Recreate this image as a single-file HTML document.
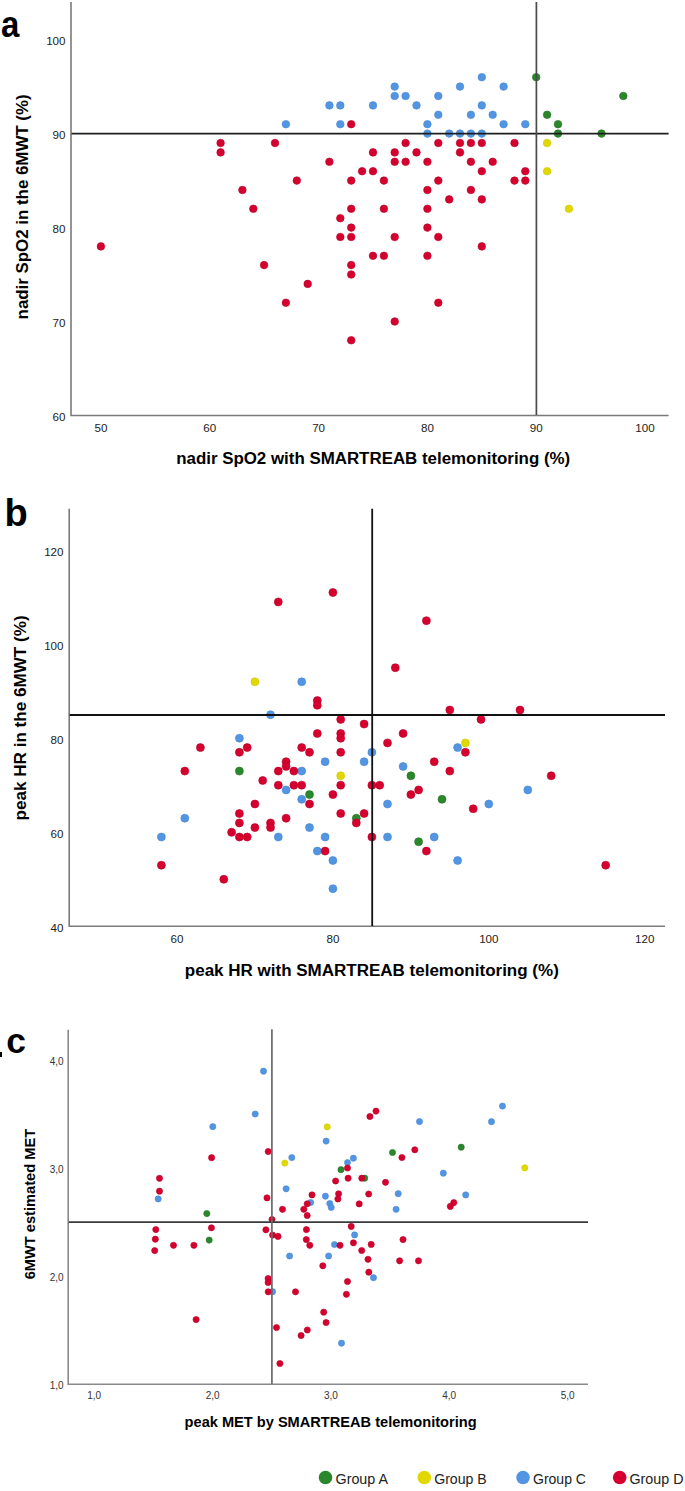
<!DOCTYPE html><html><head><meta charset="utf-8"><style>html,body{margin:0;padding:0;background:#fff;}svg{display:block;}text{font-family:"Liberation Sans",sans-serif;}</style></head><body>
<svg width="685" height="1491" viewBox="0 0 685 1491">
<rect width="685" height="1491" fill="#fff"/>
<text transform="translate(0.9 36.9) scale(0.88 1)" font-size="37.5" font-weight="bold" fill="#000">a</text>
<g fill="#5295e2" stroke="#4a88d2" stroke-width="0.6"><circle cx="285.9" cy="124.2" r="3.8"/><circle cx="329.4" cy="105.4" r="3.8"/><circle cx="340.3" cy="105.4" r="3.8"/><circle cx="340.3" cy="124.2" r="3.8"/><circle cx="373.0" cy="105.4" r="3.8"/><circle cx="394.7" cy="86.6" r="3.8"/><circle cx="394.7" cy="96.0" r="3.8"/><circle cx="481.8" cy="77.2" r="3.8"/><circle cx="460.0" cy="86.6" r="3.8"/><circle cx="503.6" cy="86.6" r="3.8"/><circle cx="405.6" cy="96.0" r="3.8"/><circle cx="438.3" cy="96.0" r="3.8"/><circle cx="416.5" cy="105.4" r="3.8"/><circle cx="481.8" cy="105.4" r="3.8"/><circle cx="438.3" cy="114.8" r="3.8"/><circle cx="470.9" cy="114.8" r="3.8"/><circle cx="492.7" cy="114.8" r="3.8"/><circle cx="427.4" cy="124.2" r="3.8"/><circle cx="503.6" cy="124.2" r="3.8"/><circle cx="525.3" cy="124.2" r="3.8"/><circle cx="427.4" cy="133.6" r="3.8"/><circle cx="449.2" cy="133.6" r="3.8"/><circle cx="460.0" cy="133.6" r="3.8"/><circle cx="470.9" cy="133.6" r="3.8"/><circle cx="481.8" cy="133.6" r="3.8"/></g>
<g fill="#2b872b" stroke="#237323" stroke-width="0.6"><circle cx="536.2" cy="77.2" r="3.8"/><circle cx="547.1" cy="114.8" r="3.8"/><circle cx="558.0" cy="124.2" r="3.8"/><circle cx="558.0" cy="133.6" r="3.8"/><circle cx="601.5" cy="133.6" r="3.8"/><circle cx="623.3" cy="96.0" r="3.8"/></g>
<g fill="#e0d800" stroke="#d2c800" stroke-width="0.6"><circle cx="547.1" cy="143.0" r="3.8"/><circle cx="547.1" cy="171.2" r="3.8"/><circle cx="568.9" cy="208.8" r="3.8"/></g>
<g fill="#d6002f" stroke="#b80028" stroke-width="0.6"><circle cx="100.9" cy="246.4" r="3.8"/><circle cx="220.6" cy="143.0" r="3.8"/><circle cx="220.6" cy="152.4" r="3.8"/><circle cx="242.4" cy="190.0" r="3.8"/><circle cx="253.3" cy="208.8" r="3.8"/><circle cx="351.2" cy="124.2" r="3.8"/><circle cx="275.0" cy="143.0" r="3.8"/><circle cx="329.4" cy="161.8" r="3.8"/><circle cx="373.0" cy="152.4" r="3.8"/><circle cx="394.7" cy="152.4" r="3.8"/><circle cx="394.7" cy="161.8" r="3.8"/><circle cx="362.1" cy="171.2" r="3.8"/><circle cx="373.0" cy="171.2" r="3.8"/><circle cx="296.8" cy="180.6" r="3.8"/><circle cx="351.2" cy="180.6" r="3.8"/><circle cx="383.9" cy="180.6" r="3.8"/><circle cx="351.2" cy="208.8" r="3.8"/><circle cx="383.9" cy="208.8" r="3.8"/><circle cx="340.3" cy="218.2" r="3.8"/><circle cx="351.2" cy="227.6" r="3.8"/><circle cx="340.3" cy="237.0" r="3.8"/><circle cx="351.2" cy="237.0" r="3.8"/><circle cx="394.7" cy="237.0" r="3.8"/><circle cx="373.0" cy="255.8" r="3.8"/><circle cx="383.9" cy="255.8" r="3.8"/><circle cx="405.6" cy="143.0" r="3.8"/><circle cx="438.3" cy="143.0" r="3.8"/><circle cx="460.0" cy="143.0" r="3.8"/><circle cx="470.9" cy="143.0" r="3.8"/><circle cx="481.8" cy="143.0" r="3.8"/><circle cx="514.5" cy="143.0" r="3.8"/><circle cx="416.5" cy="152.4" r="3.8"/><circle cx="460.0" cy="152.4" r="3.8"/><circle cx="405.6" cy="161.8" r="3.8"/><circle cx="427.4" cy="161.8" r="3.8"/><circle cx="470.9" cy="161.8" r="3.8"/><circle cx="492.7" cy="161.8" r="3.8"/><circle cx="481.8" cy="171.2" r="3.8"/><circle cx="525.3" cy="171.2" r="3.8"/><circle cx="438.3" cy="180.6" r="3.8"/><circle cx="514.5" cy="180.6" r="3.8"/><circle cx="525.3" cy="180.6" r="3.8"/><circle cx="427.4" cy="190.0" r="3.8"/><circle cx="470.9" cy="190.0" r="3.8"/><circle cx="449.2" cy="199.4" r="3.8"/><circle cx="481.8" cy="199.4" r="3.8"/><circle cx="427.4" cy="208.8" r="3.8"/><circle cx="427.4" cy="227.6" r="3.8"/><circle cx="438.3" cy="237.0" r="3.8"/><circle cx="481.8" cy="246.4" r="3.8"/><circle cx="427.4" cy="255.8" r="3.8"/><circle cx="264.1" cy="265.1" r="3.8"/><circle cx="351.2" cy="265.1" r="3.8"/><circle cx="351.2" cy="274.5" r="3.8"/><circle cx="307.7" cy="283.9" r="3.8"/><circle cx="285.9" cy="302.7" r="3.8"/><circle cx="394.7" cy="321.5" r="3.8"/><circle cx="351.2" cy="340.3" r="3.8"/><circle cx="438.3" cy="302.7" r="3.8"/></g>
<path d="M71 2 V415.5 H668.6" fill="none" stroke="#7a7a7a" stroke-width="1.6"/>
<path d="M71.5 133.6 H668.6" fill="none" stroke="#1e1e1e" stroke-width="1.7"/>
<path d="M536.4 2 V415" fill="none" stroke="#4a4a4a" stroke-width="1.7"/>
<text x="65.5" y="45.2" font-size="11.6" text-anchor="end" fill="#222">100</text>
<text x="65.5" y="139.2" font-size="11.6" text-anchor="end" fill="#222">90</text>
<text x="65.5" y="233.2" font-size="11.6" text-anchor="end" fill="#222">80</text>
<text x="65.5" y="327.1" font-size="11.6" text-anchor="end" fill="#222">70</text>
<text x="65.5" y="421.1" font-size="11.6" text-anchor="end" fill="#222">60</text>
<text x="100.9" y="431.8" font-size="11.6" text-anchor="middle" fill="#222">50</text>
<text x="209.7" y="431.8" font-size="11.6" text-anchor="middle" fill="#222">60</text>
<text x="318.6" y="431.8" font-size="11.6" text-anchor="middle" fill="#222">70</text>
<text x="427.4" y="431.8" font-size="11.6" text-anchor="middle" fill="#222">80</text>
<text x="536.2" y="431.8" font-size="11.6" text-anchor="middle" fill="#222">90</text>
<text x="645.0" y="431.8" font-size="11.6" text-anchor="middle" fill="#222">100</text>
<text x="373.2" y="464.3" font-size="16" font-weight="bold" text-anchor="middle" textLength="394" lengthAdjust="spacingAndGlyphs" fill="#000">nadir SpO2 with SMARTREAB telemonitoring (%)</text>
<text transform="translate(28.1 206.9) rotate(-90)" font-size="16" font-weight="bold" text-anchor="middle" textLength="225" lengthAdjust="spacingAndGlyphs" fill="#000">nadir SpO2 in the 6MWT (%)</text>
<text x="4.5" y="525.8" font-size="38" font-weight="bold" fill="#000">b</text>
<g fill="#5295e2" stroke="#4a88d2" stroke-width="0.6"><circle cx="301.7" cy="681.8" r="4.0"/><circle cx="270.5" cy="714.7" r="4.0"/><circle cx="239.4" cy="738.2" r="4.0"/><circle cx="184.8" cy="818.2" r="4.0"/><circle cx="371.9" cy="752.3" r="4.0"/><circle cx="325.1" cy="761.7" r="4.0"/><circle cx="364.1" cy="761.7" r="4.0"/><circle cx="301.7" cy="771.1" r="4.0"/><circle cx="286.1" cy="789.9" r="4.0"/><circle cx="301.7" cy="799.3" r="4.0"/><circle cx="309.5" cy="827.6" r="4.0"/><circle cx="457.6" cy="747.6" r="4.0"/><circle cx="403.1" cy="766.4" r="4.0"/><circle cx="387.5" cy="804.0" r="4.0"/><circle cx="488.8" cy="804.0" r="4.0"/><circle cx="527.8" cy="789.9" r="4.0"/><circle cx="161.4" cy="837.0" r="4.0"/><circle cx="278.3" cy="837.0" r="4.0"/><circle cx="325.1" cy="837.0" r="4.0"/><circle cx="317.3" cy="851.1" r="4.0"/><circle cx="332.9" cy="860.5" r="4.0"/><circle cx="332.9" cy="888.7" r="4.0"/><circle cx="387.5" cy="837.0" r="4.0"/><circle cx="434.2" cy="837.0" r="4.0"/><circle cx="457.6" cy="860.5" r="4.0"/></g>
<g fill="#2b872b" stroke="#237323" stroke-width="0.6"><circle cx="239.4" cy="771.1" r="4.0"/><circle cx="309.5" cy="794.6" r="4.0"/><circle cx="356.3" cy="818.2" r="4.0"/><circle cx="410.9" cy="775.8" r="4.0"/><circle cx="442.0" cy="799.3" r="4.0"/><circle cx="418.6" cy="841.7" r="4.0"/></g>
<g fill="#e0d800" stroke="#d2c800" stroke-width="0.6"><circle cx="254.9" cy="681.8" r="4.0"/><circle cx="340.7" cy="775.8" r="4.0"/><circle cx="465.4" cy="742.9" r="4.0"/></g>
<g fill="#d6002f" stroke="#b80028" stroke-width="0.6"><circle cx="278.3" cy="601.9" r="4.0"/><circle cx="332.9" cy="592.5" r="4.0"/><circle cx="426.4" cy="620.7" r="4.0"/><circle cx="395.3" cy="667.7" r="4.0"/><circle cx="317.3" cy="700.6" r="4.0"/><circle cx="317.3" cy="705.3" r="4.0"/><circle cx="449.8" cy="710.0" r="4.0"/><circle cx="340.7" cy="719.4" r="4.0"/><circle cx="364.1" cy="724.1" r="4.0"/><circle cx="520.0" cy="710.0" r="4.0"/><circle cx="481.0" cy="719.4" r="4.0"/><circle cx="200.4" cy="747.6" r="4.0"/><circle cx="247.2" cy="747.6" r="4.0"/><circle cx="239.4" cy="752.3" r="4.0"/><circle cx="184.8" cy="771.1" r="4.0"/><circle cx="262.7" cy="780.5" r="4.0"/><circle cx="254.9" cy="804.0" r="4.0"/><circle cx="239.4" cy="813.5" r="4.0"/><circle cx="239.4" cy="822.9" r="4.0"/><circle cx="254.9" cy="827.6" r="4.0"/><circle cx="231.6" cy="832.3" r="4.0"/><circle cx="317.3" cy="733.5" r="4.0"/><circle cx="301.7" cy="747.6" r="4.0"/><circle cx="309.5" cy="752.3" r="4.0"/><circle cx="340.7" cy="752.3" r="4.0"/><circle cx="286.1" cy="761.7" r="4.0"/><circle cx="286.1" cy="766.4" r="4.0"/><circle cx="278.3" cy="771.1" r="4.0"/><circle cx="293.9" cy="771.1" r="4.0"/><circle cx="278.3" cy="785.2" r="4.0"/><circle cx="293.9" cy="785.2" r="4.0"/><circle cx="301.7" cy="785.2" r="4.0"/><circle cx="340.7" cy="785.2" r="4.0"/><circle cx="332.9" cy="794.6" r="4.0"/><circle cx="309.5" cy="804.0" r="4.0"/><circle cx="340.7" cy="813.5" r="4.0"/><circle cx="364.1" cy="813.5" r="4.0"/><circle cx="286.1" cy="818.2" r="4.0"/><circle cx="270.5" cy="822.9" r="4.0"/><circle cx="270.5" cy="827.6" r="4.0"/><circle cx="356.3" cy="822.9" r="4.0"/><circle cx="371.9" cy="785.2" r="4.0"/><circle cx="379.7" cy="785.2" r="4.0"/><circle cx="340.7" cy="733.5" r="4.0"/><circle cx="340.7" cy="738.2" r="4.0"/><circle cx="403.1" cy="733.5" r="4.0"/><circle cx="387.5" cy="742.9" r="4.0"/><circle cx="465.4" cy="752.3" r="4.0"/><circle cx="434.2" cy="761.7" r="4.0"/><circle cx="449.8" cy="771.1" r="4.0"/><circle cx="418.6" cy="789.9" r="4.0"/><circle cx="410.9" cy="794.6" r="4.0"/><circle cx="473.2" cy="808.8" r="4.0"/><circle cx="551.2" cy="775.8" r="4.0"/><circle cx="605.7" cy="865.2" r="4.0"/><circle cx="161.4" cy="865.2" r="4.0"/><circle cx="223.8" cy="879.3" r="4.0"/><circle cx="239.4" cy="837.0" r="4.0"/><circle cx="247.2" cy="837.0" r="4.0"/><circle cx="371.9" cy="837.0" r="4.0"/><circle cx="325.1" cy="851.1" r="4.0"/><circle cx="426.4" cy="851.1" r="4.0"/></g>
<path d="M69.2 508.8 V926.3 H665" fill="none" stroke="#7a7a7a" stroke-width="1.6"/>
<path d="M69.7 715 H665 M372.2 508.7 V926" fill="none" stroke="#111" stroke-width="1.8"/>
<text x="63.5" y="556.1" font-size="11.6" text-anchor="end" fill="#222">120</text>
<text x="63.5" y="650.2" font-size="11.6" text-anchor="end" fill="#222">100</text>
<text x="63.5" y="744.2" font-size="11.6" text-anchor="end" fill="#222">80</text>
<text x="63.5" y="838.3" font-size="11.6" text-anchor="end" fill="#222">60</text>
<text x="63.5" y="932.3" font-size="11.6" text-anchor="end" fill="#222">40</text>
<text x="177.0" y="943.2" font-size="11.6" text-anchor="middle" fill="#222">60</text>
<text x="332.9" y="943.2" font-size="11.6" text-anchor="middle" fill="#222">80</text>
<text x="488.8" y="943.2" font-size="11.6" text-anchor="middle" fill="#222">100</text>
<text x="644.7" y="943.2" font-size="11.6" text-anchor="middle" fill="#222">120</text>
<text x="371.8" y="976" font-size="16" font-weight="bold" text-anchor="middle" textLength="374" lengthAdjust="spacingAndGlyphs" fill="#000">peak HR with SMARTREAB telemonitoring (%)</text>
<text transform="translate(26 717.9) rotate(-90)" font-size="16" font-weight="bold" text-anchor="middle" textLength="205" lengthAdjust="spacingAndGlyphs" fill="#000">peak HR in the 6MWT (%)</text>
<rect x="0" y="1052" width="2" height="5" fill="#000"/>
<text x="6.2" y="1053.4" font-size="35.5" font-weight="bold" fill="#000">c</text>
<g fill="#5295e2" stroke="#4a88d2" stroke-width="0.6"><circle cx="212.8" cy="1126.7" r="3.1"/><circle cx="158.2" cy="1198.9" r="3.1"/><circle cx="272.6" cy="1291.7" r="3.1"/><circle cx="263.5" cy="1071.2" r="3.1"/><circle cx="255.2" cy="1114.0" r="3.1"/><circle cx="326.1" cy="1141.1" r="3.1"/><circle cx="291.8" cy="1157.6" r="3.1"/><circle cx="286.1" cy="1188.8" r="3.1"/><circle cx="325.4" cy="1196.2" r="3.1"/><circle cx="310.7" cy="1202.5" r="3.1"/><circle cx="329.8" cy="1203.5" r="3.1"/><circle cx="331.2" cy="1207.4" r="3.1"/><circle cx="289.6" cy="1256.0" r="3.1"/><circle cx="328.6" cy="1256.0" r="3.1"/><circle cx="334.5" cy="1244.5" r="3.1"/><circle cx="341.5" cy="1343.2" r="3.1"/><circle cx="353.4" cy="1158.2" r="3.1"/><circle cx="347.5" cy="1162.6" r="3.1"/><circle cx="398.2" cy="1193.7" r="3.1"/><circle cx="396.1" cy="1209.3" r="3.1"/><circle cx="354.6" cy="1234.9" r="3.1"/><circle cx="373.5" cy="1277.7" r="3.1"/><circle cx="419.5" cy="1121.6" r="3.1"/><circle cx="502.5" cy="1106.1" r="3.1"/><circle cx="491.5" cy="1121.7" r="3.1"/><circle cx="443.3" cy="1173.2" r="3.1"/><circle cx="465.7" cy="1194.9" r="3.1"/></g>
<g fill="#2b872b" stroke="#237323" stroke-width="0.6"><circle cx="206.8" cy="1213.6" r="3.1"/><circle cx="209.2" cy="1240.1" r="3.1"/><circle cx="341.0" cy="1169.7" r="3.1"/><circle cx="364.7" cy="1178.2" r="3.1"/><circle cx="392.5" cy="1152.5" r="3.1"/><circle cx="461.2" cy="1147.2" r="3.1"/></g>
<g fill="#e0d800" stroke="#d2c800" stroke-width="0.6"><circle cx="327.2" cy="1126.9" r="3.1"/><circle cx="284.8" cy="1163.1" r="3.1"/><circle cx="524.8" cy="1167.9" r="3.1"/></g>
<g fill="#d6002f" stroke="#b80028" stroke-width="0.6"><circle cx="159.5" cy="1178.3" r="3.1"/><circle cx="159.5" cy="1191.2" r="3.1"/><circle cx="155.8" cy="1229.6" r="3.1"/><circle cx="155.3" cy="1239.2" r="3.1"/><circle cx="154.7" cy="1250.6" r="3.1"/><circle cx="173.5" cy="1245.3" r="3.1"/><circle cx="193.9" cy="1245.3" r="3.1"/><circle cx="211.4" cy="1227.8" r="3.1"/><circle cx="196.1" cy="1319.6" r="3.1"/><circle cx="211.6" cy="1157.7" r="3.1"/><circle cx="268.2" cy="1151.5" r="3.1"/><circle cx="267.0" cy="1197.9" r="3.1"/><circle cx="272.0" cy="1219.5" r="3.1"/><circle cx="265.9" cy="1229.8" r="3.1"/><circle cx="272.6" cy="1235.1" r="3.1"/><circle cx="278.0" cy="1236.4" r="3.1"/><circle cx="268.1" cy="1278.5" r="3.1"/><circle cx="268.1" cy="1282.5" r="3.1"/><circle cx="282.5" cy="1209.3" r="3.1"/><circle cx="312.0" cy="1194.9" r="3.1"/><circle cx="307.2" cy="1203.8" r="3.1"/><circle cx="303.8" cy="1209.3" r="3.1"/><circle cx="307.2" cy="1215.5" r="3.1"/><circle cx="306.4" cy="1229.6" r="3.1"/><circle cx="306.3" cy="1239.6" r="3.1"/><circle cx="335.6" cy="1181.0" r="3.1"/><circle cx="338.6" cy="1193.8" r="3.1"/><circle cx="337.9" cy="1199.0" r="3.1"/><circle cx="309.8" cy="1245.3" r="3.1"/><circle cx="322.8" cy="1265.8" r="3.1"/><circle cx="295.5" cy="1291.8" r="3.1"/><circle cx="323.7" cy="1312.2" r="3.1"/><circle cx="326.1" cy="1322.5" r="3.1"/><circle cx="276.5" cy="1327.5" r="3.1"/><circle cx="307.3" cy="1330.0" r="3.1"/><circle cx="301.1" cy="1335.5" r="3.1"/><circle cx="279.9" cy="1363.5" r="3.1"/><circle cx="340.0" cy="1245.3" r="3.1"/><circle cx="376.0" cy="1111.1" r="3.1"/><circle cx="369.9" cy="1116.5" r="3.1"/><circle cx="414.8" cy="1149.8" r="3.1"/><circle cx="401.9" cy="1157.5" r="3.1"/><circle cx="347.5" cy="1168.0" r="3.1"/><circle cx="348.1" cy="1178.2" r="3.1"/><circle cx="361.8" cy="1178.2" r="3.1"/><circle cx="385.5" cy="1182.3" r="3.1"/><circle cx="368.7" cy="1194.0" r="3.1"/><circle cx="359.2" cy="1203.9" r="3.1"/><circle cx="351.2" cy="1226.4" r="3.1"/><circle cx="403.0" cy="1239.6" r="3.1"/><circle cx="353.4" cy="1242.8" r="3.1"/><circle cx="371.2" cy="1244.4" r="3.1"/><circle cx="361.7" cy="1250.5" r="3.1"/><circle cx="368.0" cy="1259.3" r="3.1"/><circle cx="368.8" cy="1272.2" r="3.1"/><circle cx="347.5" cy="1281.5" r="3.1"/><circle cx="346.4" cy="1294.3" r="3.1"/><circle cx="399.6" cy="1260.8" r="3.1"/><circle cx="418.5" cy="1260.8" r="3.1"/><circle cx="453.8" cy="1202.6" r="3.1"/><circle cx="450.3" cy="1206.4" r="3.1"/><circle cx="268.2" cy="1291.8" r="3.1"/></g>
<path d="M68.2 1029.8 V1384.3 H588" fill="none" stroke="#8a8a8a" stroke-width="1.6"/>
<path d="M68.7 1222.2 H588" fill="none" stroke="#3a3a3a" stroke-width="1.7"/>
<path d="M271.9 1029.3 V1384" fill="none" stroke="#6a6a6a" stroke-width="1.7"/>
<text x="63.6" y="1064.6" font-size="10" text-anchor="end" fill="#333">4,0</text>
<text x="63.6" y="1172.9" font-size="10" text-anchor="end" fill="#333">3,0</text>
<text x="63.6" y="1281.1" font-size="10" text-anchor="end" fill="#333">2,0</text>
<text x="63.6" y="1389.4" font-size="10" text-anchor="end" fill="#333">1,0</text>
<text x="94.2" y="1399" font-size="10" text-anchor="middle" fill="#333">1,0</text>
<text x="212.6" y="1399" font-size="10" text-anchor="middle" fill="#333">2,0</text>
<text x="330.9" y="1399" font-size="10" text-anchor="middle" fill="#333">3,0</text>
<text x="449.2" y="1399" font-size="10" text-anchor="middle" fill="#333">4,0</text>
<text x="567.6" y="1399" font-size="10" text-anchor="middle" fill="#333">5,0</text>
<text x="330.6" y="1427.2" font-size="14" font-weight="bold" text-anchor="middle" textLength="292" lengthAdjust="spacingAndGlyphs" fill="#000">peak MET by SMARTREAB telemonitoring</text>
<text transform="translate(35.2 1204.1) rotate(-90)" font-size="14.5" font-weight="bold" text-anchor="middle" textLength="150.5" lengthAdjust="spacingAndGlyphs" fill="#000">6MWT estimated MET</text>
<circle cx="325.5" cy="1477.5" r="6.8" fill="#2b872b"/>
<text x="335.5" y="1484" font-size="14" textLength="52.5" lengthAdjust="spacingAndGlyphs" fill="#222">Group A</text>
<circle cx="424.3" cy="1477.5" r="6.8" fill="#e0d800"/>
<text x="434.2" y="1484" font-size="14" textLength="52.5" lengthAdjust="spacingAndGlyphs" fill="#222">Group B</text>
<circle cx="523" cy="1477.5" r="6.8" fill="#5295e2"/>
<text x="533" y="1484" font-size="14" textLength="53" lengthAdjust="spacingAndGlyphs" fill="#222">Group C</text>
<circle cx="619.7" cy="1477.5" r="6.8" fill="#d6002f"/>
<text x="629.5" y="1484" font-size="14" textLength="54" lengthAdjust="spacingAndGlyphs" fill="#222">Group D</text>
</svg></body></html>
